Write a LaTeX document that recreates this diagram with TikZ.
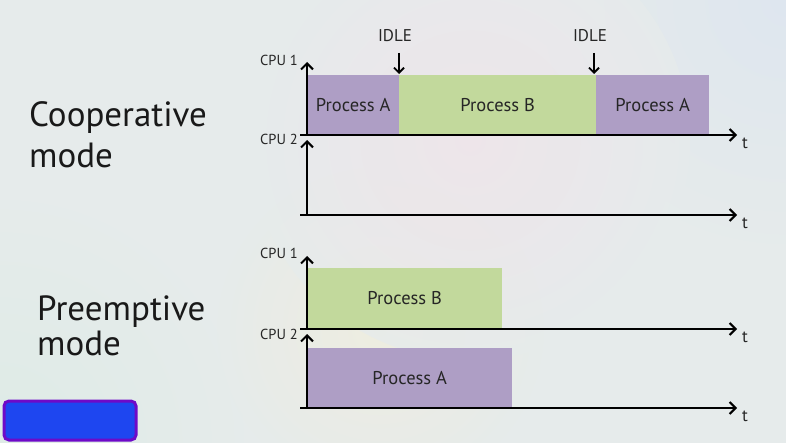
\documentclass[tikz,border=0pt]{standalone}
\usepackage{fontspec}
\setmainfont{PT Sans}
\usetikzlibrary{arrows.meta}
\definecolor{procA}{RGB}{174,158,197}
\definecolor{procB}{RGB}{194,217,156}
\definecolor{bgc}{RGB}{230,235,235}
\definecolor{bgpink}{RGB}{240,228,234}
\definecolor{bgyel}{RGB}{240,238,222}
\definecolor{bgblue}{RGB}{222,230,240}
\definecolor{bggreen}{RGB}{222,236,230}
\definecolor{redpurple}{RGB}{110,10,200}
\definecolor{redblue}{RGB}{30,70,240}
\tikzset{
  axis/.style={line width=2pt,-{Straight Barb[length=6pt,width=12pt,line width=2pt]}},
  idlearrow/.style={line width=1.8pt,-{Straight Barb[length=5pt,width=10pt,line width=1.8pt]}},
  blockA/.style={fill=procA,draw=none,inner sep=0pt,anchor=south west,font=\fontsize{18.5}{20}\selectfont,text=black!85},
  blockB/.style={fill=procB,draw=none,inner sep=0pt,anchor=south west,font=\fontsize{18.5}{20}\selectfont,text=black!85},
  cpulbl/.style={font=\fontsize{14.5}{15}\selectfont,inner sep=0pt,text=black!85},
  tlbl/.style={font=\fontsize{17}{18}\selectfont,inner sep=0pt,text=black!85},
  idlelbl/.style={font=\fontsize{17}{18}\selectfont,inner sep=0pt,text=black!85},
  modelbl/.style={font=\fontsize{35}{40}\selectfont,inner sep=0pt,anchor=base west,text=black!90},
}
\begin{document}
\begin{tikzpicture}[x=1pt,y=-1pt]
\useasboundingbox (0,0) rectangle (786,443);
% background
\fill[bgc] (0,0) rectangle (786,443);
\shade[inner color=bgblue,outer color=bgc,opacity=0.9] (786,0) circle (260);
\shade[inner color=bggreen,outer color=bgc,opacity=0.9] (0,443) circle (260);
\shade[inner color=bgyel,outer color=bgc,opacity=0.8] (380,330) circle (170);
\shade[inner color=bgpink,outer color=bgc,opacity=0.8] (470,140) circle (220);

% mode labels
\node[modelbl] (coop1) at (29,127) {Cooperative};
\node[modelbl] (coop2) at (29,168) {mode};
\node[modelbl] (pre1) at (37,320) {Preemptive};
\node[modelbl] (pre2) at (37,355) {mode};

% ===== Cooperative =====
\node[blockA,minimum width=92pt,minimum height=60pt] (ca1) at (307,135) {Process A};
\node[blockB,minimum width=197pt,minimum height=60pt] (cb) at (399,135) {Process B};
\node[blockA,minimum width=113pt,minimum height=60pt] (ca2) at (596,135) {Process A};

\coordinate (c1o) at (300,135);
\coordinate (c1e) at (737,135);
\coordinate (c1b) at (307,135);
\coordinate (c1t) at (307,62);
\coordinate (c2o) at (300,215);
\coordinate (c2e) at (737,215);
\coordinate (c2b) at (307,215);
\coordinate (c2t) at (307,140);
\draw[axis] (c1b) -- (c1t);
\draw[axis] (c1o) -- (c1e);
\draw[axis] (c2b) -- (c2t);
\draw[axis] (c2o) -- (c2e);
\node[tlbl] (ct1) at (745,143) {t};
\node[tlbl] (ct2) at (745,223) {t};
\node[cpulbl,anchor=east] (ccpu1) at (298,60) {CPU 1};
\node[cpulbl,anchor=east] (ccpu2) at (298,139) {CPU 2};

\node[idlelbl] (idle1) at (395,36) {IDLE};
\node[idlelbl] (idle2) at (590,36) {IDLE};
\coordinate (i1a) at (399,53);
\coordinate (i1b) at (399,74);
\coordinate (i2a) at (594,53);
\coordinate (i2b) at (594,74);
\draw[idlearrow] (i1a) -- (i1b);
\draw[idlearrow] (i2a) -- (i2b);

% ===== Preemptive =====
\node[blockB,minimum width=195pt,minimum height=61pt] (pb) at (307,329) {Process B};
\node[blockA,minimum width=205pt,minimum height=60pt] (pa) at (307,408) {Process A};

\coordinate (p1o) at (300,329);
\coordinate (p1e) at (737,329);
\coordinate (p1b) at (307,329);
\coordinate (p1t) at (307,256);
\coordinate (p2o) at (300,408);
\coordinate (p2e) at (737,408);
\coordinate (p2b) at (307,408);
\coordinate (p2t) at (307,334);
\draw[axis] (p1b) -- (p1t);
\draw[axis] (p1o) -- (p1e);
\draw[axis] (p2b) -- (p2t);
\draw[axis] (p2o) -- (p2e);
\node[tlbl] (pt1) at (745,337) {t};
\node[tlbl] (pt2) at (745,416) {t};
\node[cpulbl,anchor=east] (pcpu1) at (298,253) {CPU 1};
\node[cpulbl,anchor=east] (pcpu2) at (298,334) {CPU 2};

% redaction box
\draw[redpurple,line width=3pt,fill=redblue,rounded corners=5pt] (4,401) rectangle (136,440);
\end{tikzpicture}
\end{document}
